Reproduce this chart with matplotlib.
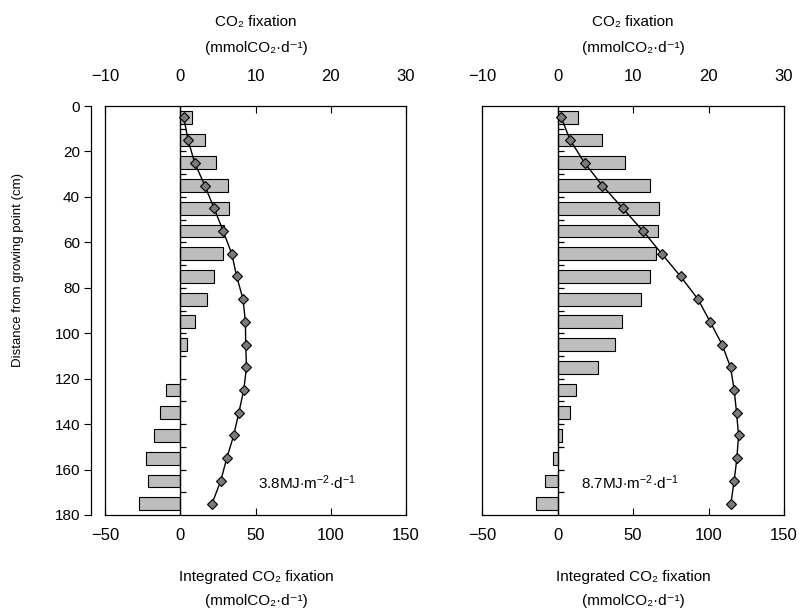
import matplotlib
matplotlib.use("Agg")
import matplotlib.pyplot as plt
from matplotlib.lines import TICKRIGHT

# ---------------- data ----------------
depth = [5, 15, 25, 35, 45, 55, 65, 75, 85, 95, 105, 115, 125, 135, 145, 155, 165, 175]
segment_ticks = [10, 20, 30, 40, 50, 60, 70, 80, 90, 100, 110, 120, 130, 140, 150, 160, 170]

fix_38 = [1.6, 3.35, 4.8, 6.35, 6.5, 5.8, 5.65, 4.5, 3.5, 1.9, 0.85, 0.0,
          -1.85, -2.7, -3.5, -4.5, -4.3, -5.5]
integ_38 = [2.3, 5.2, 9.6, 16.3, 22.5, 28.5, 34.2, 37.5, 41.7, 43.3, 43.5, 44.0,
            42.2, 38.9, 35.5, 30.9, 26.9, 21.1]

fix_87 = [2.7, 5.9, 8.95, 12.25, 13.5, 13.35, 13.0, 12.2, 11.1, 8.6, 7.55, 5.4,
          2.5, 1.6, 0.6, -0.6, -1.6, -2.8]
integ_87 = [2.4, 8.4, 17.9, 29.7, 43.2, 56.6, 69.0, 81.5, 93.0, 101.1, 109.0, 114.6,
            117.0, 118.6, 119.9, 118.8, 117.0, 114.8]

top_ticks = [-10, 0, 10, 20, 30]
bottom_ticks = [-50, 0, 50, 100, 150]
y_ticks = [0, 20, 40, 60, 80, 100, 120, 140, 160, 180]
labels_irr = ["3.8MJ$\\cdot$m$^{-2}$$\\cdot$d$^{-1}$", "8.7MJ$\\cdot$m$^{-2}$$\\cdot$d$^{-1}$"]

# ---------------- figure ----------------
W, H = 799, 610
fig = plt.figure(figsize=(W / 100, H / 100), dpi=100)
plt.rcParams['mathtext.fontset'] = 'custom'
plt.rcParams['mathtext.rm'] = 'Liberation Sans'
plt.rcParams['mathtext.it'] = 'Liberation Sans'

NARROW = ['Liberation Sans Narrow', 'Liberation Sans', 'DejaVu Sans']
REG = ['Liberation Sans', 'DejaVu Sans']


def box(x0, x1, y0, y1):
    return [x0 / W, 1 - y1 / H, (x1 - x0) / W, (y1 - y0) / H]


panels = [
    (box(105, 406, 106, 515), fix_38, integ_38, labels_irr[0], True),
    (box(482, 784, 106, 515), fix_87, integ_87, labels_irr[1], False),
]

for rect, fix, integ, lab, show_y in panels:
    ax = fig.add_axes(rect)
    axb = ax.twiny()

    # bars on top scale
    ax.barh(depth, fix, height=5.6, color='#bdbdbd', edgecolor='black',
            linewidth=0.8, zorder=2)
    ax.axvline(0, color='black', lw=1.0, zorder=3)
    ax.plot([0] * len(segment_ticks), segment_ticks, linestyle='none',
            marker=TICKRIGHT, markersize=4, color='black', mew=0.9, zorder=3)
    ax.set_xlim(-10, 30)
    ax.set_ylim(180, 0)

    ax.xaxis.tick_top()
    ax.set_xticks(top_ticks)
    ax.tick_params(axis='x', direction='in', length=5, width=0.8, pad=16,
                   labelsize=12)
    for t in ax.get_xticklabels():
        t.set_fontfamily(NARROW)

    for s in ['top', 'right', 'bottom']:
        ax.spines[s].set_visible(False)
    if show_y:
        ax.spines['left'].set_position(('outward', 10))
        ax.spines['left'].set_linewidth(0.9)
        ax.set_yticks(y_ticks)
        ax.tick_params(axis='y', direction='out', length=5, width=0.8, pad=3,
                       labelsize=11)
        for t in ax.get_yticklabels():
            t.set_fontfamily(REG)
    else:
        ax.spines['left'].set_visible(False)
        ax.set_yticks([])

    # cumulative line on bottom scale
    axb.plot(integ, depth, color='black', lw=1.0, marker='D', markersize=5,
             markerfacecolor='#7a7a7a', markeredgecolor='black',
             markeredgewidth=0.8, zorder=4)
    axb.set_xlim(-50, 150)
    axb.xaxis.tick_bottom()
    axb.set_xticks(bottom_ticks)
    axb.tick_params(axis='x', direction='in', length=5, width=0.8, pad=9,
                    labelsize=12)
    for t in axb.get_xticklabels():
        t.set_fontfamily(NARROW)
    for s in axb.spines.values():
        s.set_linewidth(0.9)

    axb.text(51.5 if show_y else 15.7, 166, lab, ha='left', va='center',
             fontsize=11, fontfamily=REG)

# ---------------- labels ----------------
def ftext(x, y, s, **kw):
    fig.text(x / W, 1 - y / H, s, ha='center', va='center', **kw)

for cx in (256, 633):
    ftext(cx, 22, "CO₂ fixation", fontsize=11, fontfamily=NARROW)
    ftext(cx, 48, "(mmolCO₂·d⁻¹)", fontsize=11, fontfamily=NARROW)
    ftext(cx, 577, "Integrated CO₂ fixation", fontsize=11, fontfamily=NARROW)
    ftext(cx, 601, "(mmolCO₂·d⁻¹)", fontsize=11, fontfamily=NARROW)

ftext(18, 270, "Distance from growing point (cm)", fontsize=9.5,
      fontfamily=REG, rotation=90)

fig.savefig("out.png", dpi=100)
